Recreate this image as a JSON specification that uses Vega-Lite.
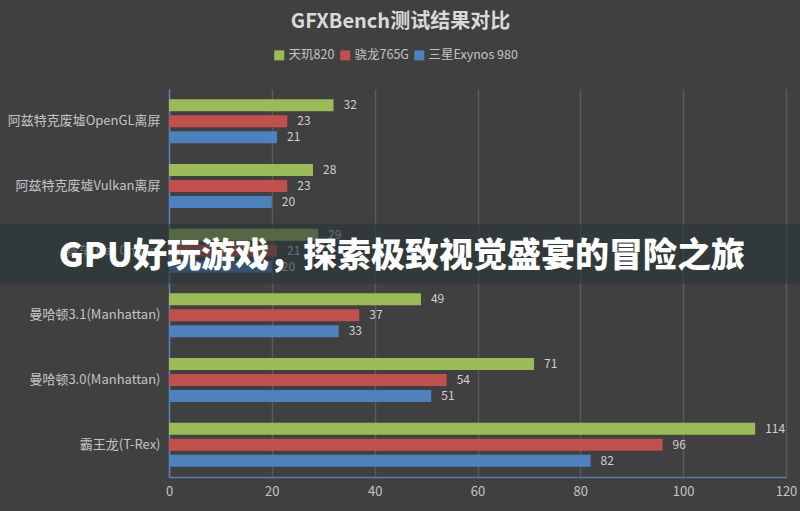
{
  "$schema": "https://vega.github.io/schema/vega-lite/v6.json",
  "width": 617,
  "height": 388,
  "autosize": {"type": "none"},
  "padding": {"left": 169, "top": 89, "right": 14, "bottom": 34},
  "background": "#404040",
  "title": {
    "text": "GFXBench测试结果对比",
    "fontSize": 20,
    "font": "Noto Sans CJK SC",
    "fontWeight": "bold",
    "color": "#d9d9d9",
    "anchor": "middle",
    "dx": -77,
    "offset": 17
  },
  "config": {
    "view": {"stroke": null},
    "font": "Noto Sans CJK SC",
    "axis": {"labelFont": "Noto Sans CJK SC"}
  },
  "datasets": {
    "scores": [
      {"test": "阿兹特克废墟OpenGL离屏", "chip": "天玑820", "value": 32},
      {"test": "阿兹特克废墟OpenGL离屏", "chip": "骁龙765G", "value": 23},
      {"test": "阿兹特克废墟OpenGL离屏", "chip": "三星Exynos 980", "value": 21},
      {"test": "阿兹特克废墟Vulkan离屏", "chip": "天玑820", "value": 28},
      {"test": "阿兹特克废墟Vulkan离屏", "chip": "骁龙765G", "value": 23},
      {"test": "阿兹特克废墟Vulkan离屏", "chip": "三星Exynos 980", "value": 20},
      {"test": "赛车(Car Chase)", "chip": "天玑820", "value": 29},
      {"test": "赛车(Car Chase)", "chip": "骁龙765G", "value": 21},
      {"test": "赛车(Car Chase)", "chip": "三星Exynos 980", "value": 20},
      {"test": "曼哈顿3.1(Manhattan)", "chip": "天玑820", "value": 49},
      {"test": "曼哈顿3.1(Manhattan)", "chip": "骁龙765G", "value": 37},
      {"test": "曼哈顿3.1(Manhattan)", "chip": "三星Exynos 980", "value": 33},
      {"test": "曼哈顿3.0(Manhattan)", "chip": "天玑820", "value": 71},
      {"test": "曼哈顿3.0(Manhattan)", "chip": "骁龙765G", "value": 54},
      {"test": "曼哈顿3.0(Manhattan)", "chip": "三星Exynos 980", "value": 51},
      {"test": "霸王龙(T-Rex)", "chip": "天玑820", "value": 114},
      {"test": "霸王龙(T-Rex)", "chip": "骁龙765G", "value": 96},
      {"test": "霸王龙(T-Rex)", "chip": "三星Exynos 980", "value": 82}
    ],
    "banner": [
      {"test": "赛车(Car Chase)", "x0": -33, "x1": 123, "xc": 45.3, "label": "GPU好玩游戏，探索极致视觉盛宴的冒险之旅"}
    ]
  },
  "encoding": {
    "y": {
      "field": "test",
      "type": "nominal",
      "sort": null,
      "scale": {
        "domain": ["阿兹特克废墟OpenGL离屏", "阿兹特克废墟Vulkan离屏", "赛车(Car Chase)", "曼哈顿3.1(Manhattan)", "曼哈顿3.0(Manhattan)", "霸王龙(T-Rex)"],
        "paddingInner": 0.32,
        "paddingOuter": 0.16
      },
      "axis": {
        "title": null,
        "ticks": false,
        "labelFontSize": 13,
        "labelColor": "#c4c4c4",
        "labelPadding": 9,
        "domainColor": "#4f81bd",
        "domainWidth": 1.5,
        "grid": false
      }
    }
  },
  "layer": [
    {
      "data": {"name": "scores"},
      "mark": {"type": "bar"},
      "encoding": {
        "x": {
          "field": "value",
          "type": "quantitative",
          "scale": {"domain": [0, 120], "nice": false},
          "axis": {
            "title": null,
            "values": [0, 20, 40, 60, 80, 100, 120],
            "ticks": false,
            "labelFlush": false,
            "labelFontSize": 13,
            "labelColor": "#c4c4c4",
            "labelPadding": 8,
            "domainColor": "#5a7ab0",
            "domainWidth": 1.5,
            "grid": true,
            "gridColor": "#5a5a5a",
            "gridWidth": 1.5
          }
        },
        "yOffset": {
          "field": "chip",
          "type": "nominal",
          "sort": ["天玑820", "骁龙765G", "三星Exynos 980"],
          "scale": {"paddingInner": 0.25, "paddingOuter": 0}
        },
        "color": {
          "field": "chip",
          "type": "nominal",
          "sort": ["天玑820", "骁龙765G", "三星Exynos 980"],
          "scale": {
            "domain": ["天玑820", "骁龙765G", "三星Exynos 980"],
            "range": ["#9bbb59", "#c0504d", "#4f81bd"]
          },
          "legend": {
            "title": null,
            "orient": "none",
            "direction": "horizontal",
            "legendX": 104,
            "legendY": -40,
            "symbolType": "square",
            "symbolSize": 100,
            "symbolStrokeWidth": 0,
            "labelFontSize": 12.5,
            "labelColor": "#c4c4c4",
            "labelOffset": 3,
            "columnPadding": 4
          }
        }
      }
    },
    {
      "data": {"name": "scores"},
      "mark": {"type": "text", "align": "left", "dx": 10, "fontSize": 12, "color": "#d0d0d0"},
      "encoding": {
        "x": {"field": "value", "type": "quantitative"},
        "yOffset": {
          "field": "chip",
          "type": "nominal",
          "sort": ["天玑820", "骁龙765G", "三星Exynos 980"]
        },
        "text": {"field": "value", "type": "quantitative"}
      }
    },
    {
      "data": {"name": "banner"},
      "mark": {"type": "bar", "color": "#2a3639", "opacity": 0.62, "height": {"band": 1.36}, "yOffset": 3},
      "encoding": {
        "x": {"field": "x0", "type": "quantitative"},
        "x2": {"field": "x1"}
      }
    },
    {
      "data": {"name": "banner"},
      "mark": {"type": "text", "fontSize": 34, "fontWeight": 900, "color": "#ffffff", "font": "Noto Sans CJK SC", "yOffset": 6},
      "encoding": {
        "x": {"field": "xc", "type": "quantitative"},
        "text": {"field": "label"}
      }
    }
  ]
}
